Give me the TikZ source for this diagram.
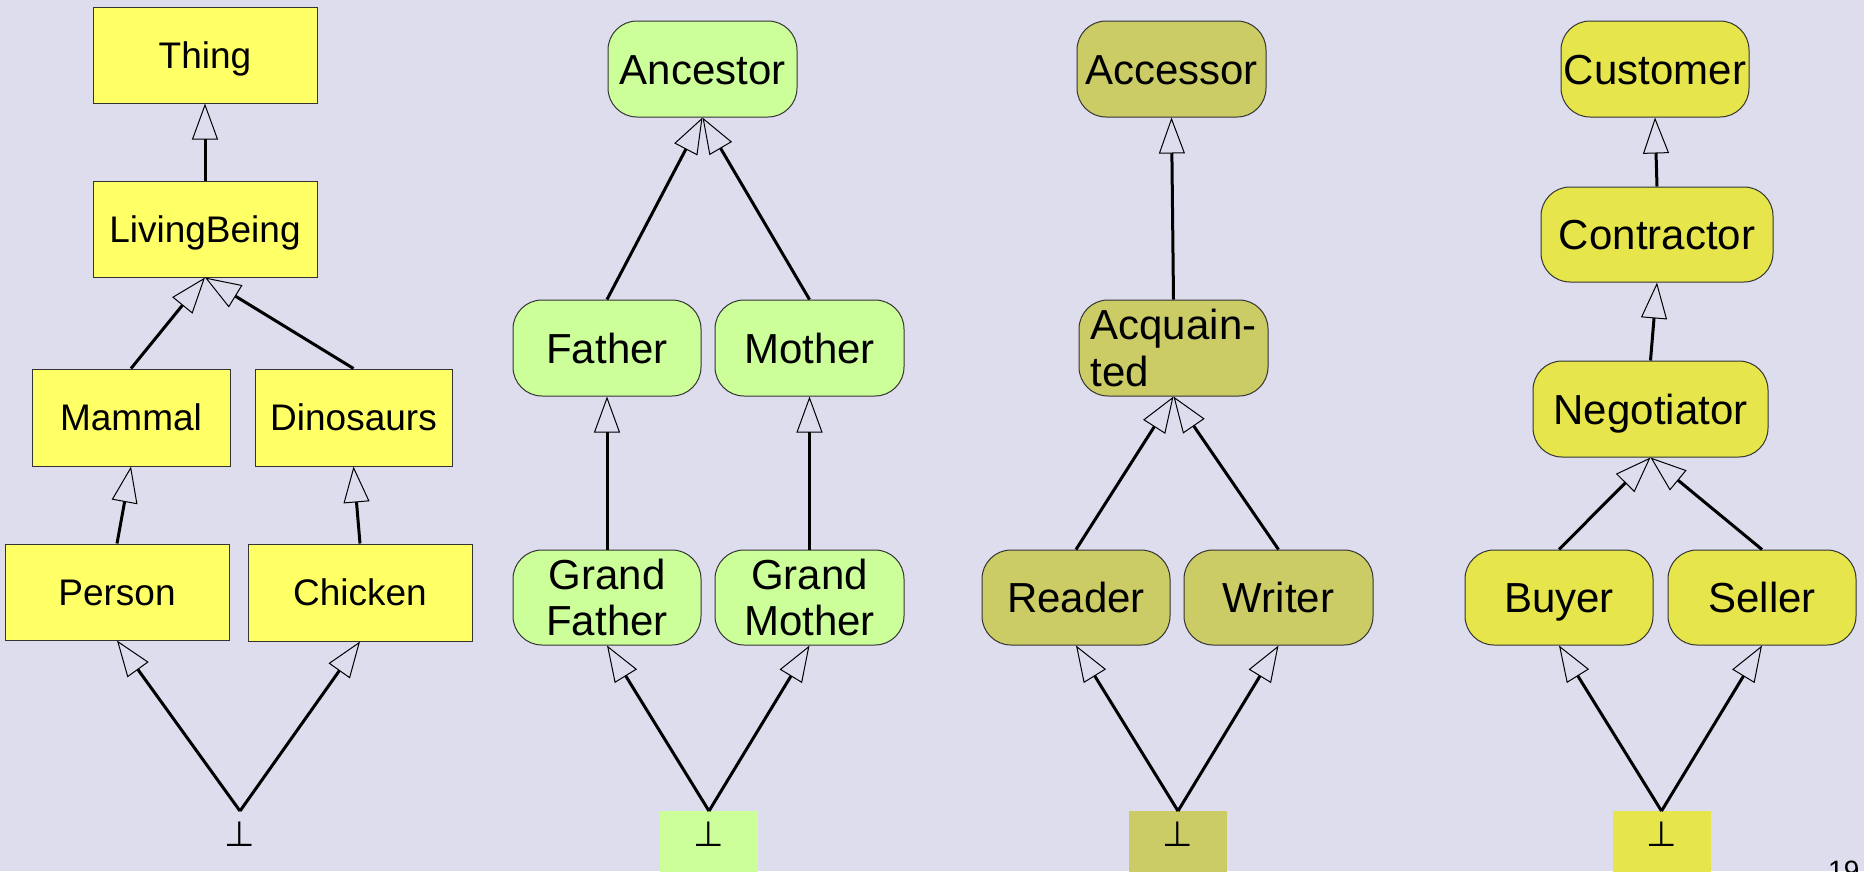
\documentclass[tikz,border=0pt]{standalone}
\usepackage{fontspec}
\setmainfont{Liberation Sans}
\newfontfamily\symfont{DejaVu Sans}
\usetikzlibrary{arrows.meta}
\definecolor{bg}{RGB}{221,221,238}
\definecolor{yel}{RGB}{255,255,102}
\definecolor{grn}{RGB}{204,255,153}
\definecolor{olv}{RGB}{204,204,102}
\definecolor{ylb}{RGB}{230,230,76}
\begin{document}
\begin{tikzpicture}[x=1pt,y=-1pt,
  sz/.style 2 args={minimum width=#1pt, minimum height=#2pt},
  base/.style={draw=black!80, line width=1pt, inner sep=0pt},
  sq/.style={base, fill=yel, font=\fontsize{37}{41}\selectfont, text height=26.5pt, text depth=0pt},
  rnd/.style={base, rounded corners=29pt, font=\fontsize{42}{46.5}\selectfont},
  one/.style={text height=30pt, text depth=0pt},
  botnode/.style={anchor=north, inner sep=0pt, minimum width=98pt, text height=35pt, text depth=30pt, font=\symfont\fontsize{35}{35}\selectfont},
  inh/.style={line width=3pt, -{Triangle[open, length=36pt, width=26pt, line width=1pt]}}
]
\useasboundingbox (0,0) rectangle (1864,871);
\clip (0,0) rectangle (1864,871);
\fill[bg] (0,0) rectangle (1864,871);

% Panel 1
\node[sq, sz={224}{96}] (thing) at (205,55) {Thing};
\node[sq, sz={224}{96}] (lb) at (205,229) {LivingBeing};
\node[sq, sz={198}{97}] (mammal) at (131,417.5) {Mammal};
\node[sq, sz={197}{97}] (dino) at (353.5,417.5) {Dinosaurs};
\node[sq, sz={224}{96}] (person) at (117,592) {Person};
\node[sq, sz={224}{97}] (chicken) at (360,592.5) {Chicken};
\node[botnode] (b1) at (240,811) {⊥};
\draw[inh] (lb.north) -- (thing.south);
\draw[inh] (mammal.north) -- (lb.south);
\draw[inh] (dino.north) -- (lb.south);
\draw[inh] (person.north) -- (mammal.south);
\draw[inh] (chicken.north) -- (dino.south);
\draw[inh] (b1.north) -- (person.south);
\draw[inh] (b1.north) -- (chicken.south);

% Panel 2
\node[rnd, one, fill=grn, sz={189}{96}] (anc) at (702.5,69) {Ancestor};
\node[rnd, one, fill=grn, sz={188}{96}] (father) at (607,348) {Father};
\node[rnd, one, fill=grn, sz={189}{96}] (mother) at (809.5,348) {Mother};
\node[rnd, fill=grn, sz={188}{95}, align=center] (gf) at (607,597.5) {Grand\\Father};
\node[rnd, fill=grn, sz={189}{95}, align=center] (gm) at (809.5,597.5) {Grand\\Mother};
\node[botnode, fill=grn] (b2) at (709,811) {⊥};
\draw[inh] (father.north) -- (anc.south);
\draw[inh] (mother.north) -- (anc.south);
\draw[inh] (gf.north) -- (father.south);
\draw[inh] (gm.north) -- (mother.south);
\draw[inh] (b2.north) -- (gf.south);
\draw[inh] (b2.north) -- (gm.south);

% Panel 3
\node[rnd, one, fill=olv, sz={189}{96}] (acc) at (1171.5,69) {Accessor};
\node[rnd, fill=olv, sz={189}{96}, align=left] (acq) at (1173.5,348) {Acquain-\\ted};
\node[rnd, one, fill=olv, sz={188}{95}] (reader) at (1076,597.5) {Reader};
\node[rnd, one, fill=olv, sz={189}{95}] (writer) at (1278.5,597.5) {Writer};
\node[botnode, fill=olv] (b3) at (1178,811) {⊥};
\draw[inh] (acq.north) -- (acc.south);
\draw[inh] (reader.north) -- (acq.south);
\draw[inh] (writer.north) -- (acq.south);
\draw[inh] (b3.north) -- (reader.south);
\draw[inh] (b3.north) -- (writer.south);

% Panel 4
\node[rnd, one, fill=ylb, sz={188}{96}] (cust) at (1655,69) {Customer};
\node[rnd, one, fill=ylb, sz={232}{95}] (contr) at (1657,234.5) {Contractor};
\node[rnd, one, fill=ylb, sz={235}{96}] (nego) at (1650.5,409) {Negotiator};
\node[rnd, one, fill=ylb, sz={188}{95}] (buyer) at (1559,597.5) {Buyer};
\node[rnd, one, fill=ylb, sz={188}{95}] (seller) at (1762,597.5) {Seller};
\node[botnode, fill=ylb] (b4) at (1661.5,811) {⊥};
\draw[inh] (contr.north) -- (cust.south);
\draw[inh] (nego.north) -- (contr.south);
\draw[inh] (buyer.north) -- (nego.south);
\draw[inh] (seller.north) -- (nego.south);
\draw[inh] (b4.north) -- (buyer.south);
\draw[inh] (b4.north) -- (seller.south);

% page number
\node[anchor=north west, inner sep=0pt, font=\fontsize{28}{28}\selectfont, text height=20pt, text depth=0pt] (pg) at (1828,860) {19};
\end{tikzpicture}
\end{document}
